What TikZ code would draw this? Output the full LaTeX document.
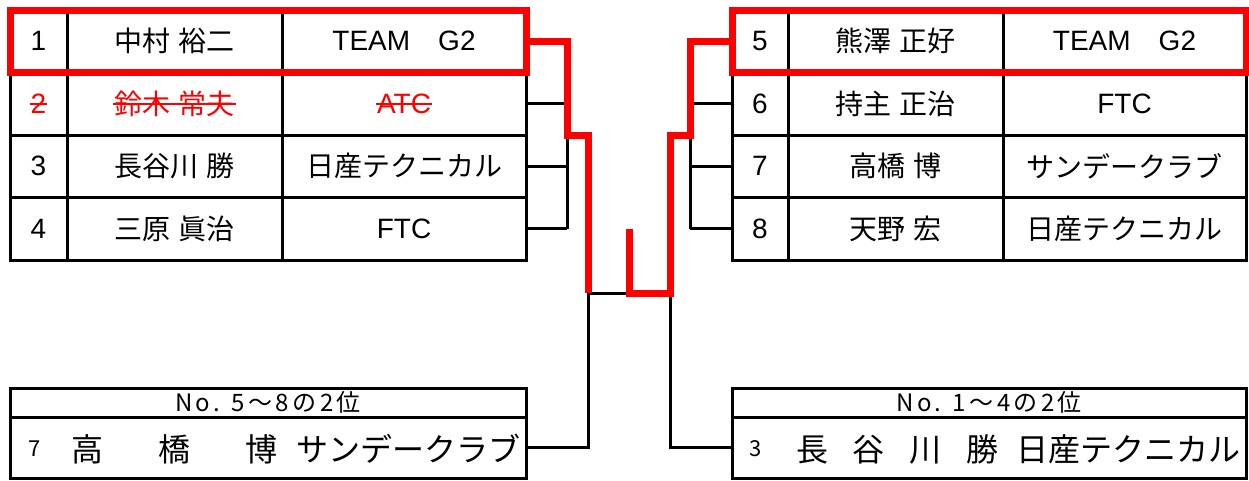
\documentclass[tikz,border=0pt]{standalone}
\usepackage{fontspec}
\setmainfont{Liberation Sans}
\newfontfamily\jp{Noto Sans CJK JP}
\newfontfamily\jpwide[LetterSpace=14]{Noto Sans CJK JP}
\usetikzlibrary{positioning}

\tikzset{
  cell/.style={draw, line width=3pt, minimum height=62.5pt, inner sep=0pt, outer sep=0pt,
    font=\fontsize{28}{28}\selectfont},
  nocell/.style={cell, minimum width=57pt},
  namecell/.style={cell, minimum width=215pt, font=\jp\fontsize{28}{28}\selectfont},
  teamcell/.style={cell, minimum width=244pt},
  hdcell/.style={draw, line width=3pt, minimum width=516pt, minimum height=29pt, inner sep=0pt,
    outer sep=0pt, font=\jpwide\fontsize{24}{24}\selectfont},
  bdcell/.style={draw, line width=3pt, minimum width=516pt, minimum height=61pt, inner sep=0pt,
    outer sep=0pt},
  bdtext/.style={inner sep=0pt, font=\jp\fontsize{32}{32}\selectfont},
  bdno/.style={inner sep=0pt, font=\jp\fontsize{22}{22}\selectfont},
  strike/.style={text=red, inner sep=0pt},
  bline/.style={line width=3pt},
  win/.style={red, line width=7pt},
}

\begin{document}
\begin{tikzpicture}[x=1pt, y=-1pt]
\useasboundingbox (0,0) rectangle (1249,480);

% left group
\foreach \r/\no/\nm/\tm in {1/1/中村\hspace{.3em}裕二/TEAM\hspace{1em}G2,
    3/3/長谷川\hspace{.3em}勝/\jp 日産テクニカル, 4/4/三原\hspace{.3em}眞治/FTC}{
  \pgfmathsetmacro{\y}{10+62.5*(\r-0.5)}
  \node[nocell] (l\r_no) at (38.5,\y) {\no};
  \node[namecell] (l\r_nm) at (174.5,\y) {\nm};
  \node[teamcell] (l\r_tm) at (404,\y) {\tm};
}
\node[nocell] (l2_no) at (38.5,103.75) {};
\node[namecell] (l2_nm) at (174.5,103.75) {};
\node[teamcell] (l2_tm) at (404,103.75) {};
\node[strike, font=\fontsize{28}{28}\selectfont] (s2_no) at (l2_no) {2};
\node[strike, font=\jp\fontsize{28}{28}\selectfont] (s2_nm) at (l2_nm) {鈴木\hspace{.3em}常夫};
\node[strike, font=\fontsize{28}{28}\selectfont] (s2_tm) at (l2_tm) {ATC};
\foreach \s in {s2_no, s2_nm, s2_tm}
  \draw[red, line width=2pt] ([xshift=-1pt]\s.west) -- ([xshift=1pt]\s.east);

% right group
\foreach \r/\no/\nm/\tm in {1/5/熊澤\hspace{.3em}正好/TEAM\hspace{1em}G2, 2/6/持主\hspace{.3em}正治/FTC,
    3/7/高橋\hspace{.3em}博/\jp サンデークラブ, 4/8/天野\hspace{.3em}宏/\jp 日産テクニカル}{
  \pgfmathsetmacro{\y}{10+62.5*(\r-0.5)}
  \node[nocell, minimum width=56pt] (r\r_no) at (760,\y) {\no};
  \node[namecell] (r\r_nm) at (895.5,\y) {\nm};
  \node[teamcell, minimum width=243pt] (r\r_tm) at (1124.5,\y) {\tm};
}

% second places
\node[hdcell] (ls_hd) at (268,402.5) {No. 5～8の2位};
\node[bdcell] (ls_bd) at (268,447.5) {};
\node[bdno, anchor=west] (ls_no) at (28,449) {7};
\node[bdtext, anchor=west] (ls_nm) at (71,449) {\makebox[206pt][s]{高\hfill 橋\hfill 博}};
\node[bdtext, anchor=east] (ls_tm) at (521,449) {サンデークラブ};

\node[hdcell, minimum width=514pt] (rs_hd) at (989,402.5) {No. 1～4の2位};
\node[bdcell, minimum width=514pt] (rs_bd) at (989,447.5) {};
\node[bdno, anchor=west] (rs_no) at (749,449) {3};
\node[bdtext, anchor=west] (rs_nm) at (796,449) {\makebox[202pt][s]{長\hfill 谷\hfill 川\hfill 勝}};
\node[bdtext, anchor=east] (rs_tm) at (1241,449) {日産テクニカル};

% bracket
\coordinate (lb) at (567,135);
\coordinate (lf) at (588,293);
\coordinate (fm) at (629,293);
\coordinate (ft) at (629,229);
\coordinate (rf) at (670,293);
\coordinate (rb) at (690,135);

\foreach \r in {2,3,4}{
  \draw[bline] (l\r_tm.east) -- (l\r_tm.east -| lb);
  \draw[bline] (r\r_no.west) -- (r\r_no.west -| rb);
}
\draw[bline] (lb) -- (l4_tm.east -| lb);
\draw[bline] (rb) -- (r4_no.west -| rb);
\draw[bline] (lf) -- (fm);
\draw[bline] (lf) |- (ls_bd.east);
\draw[bline] (rf) |- (rs_bd.west);

% winner
\draw[win] (l1_tm.east) -| (lb) -| (lf);
\draw[win] (ft) -- (fm) -- (rf) |- (rb) |- (r1_no.west);
\draw[win] (l1_no.north west) rectangle (l1_tm.south east);
\draw[win] (r1_no.north west) rectangle (r1_tm.south east);
\end{tikzpicture}
\end{document}
